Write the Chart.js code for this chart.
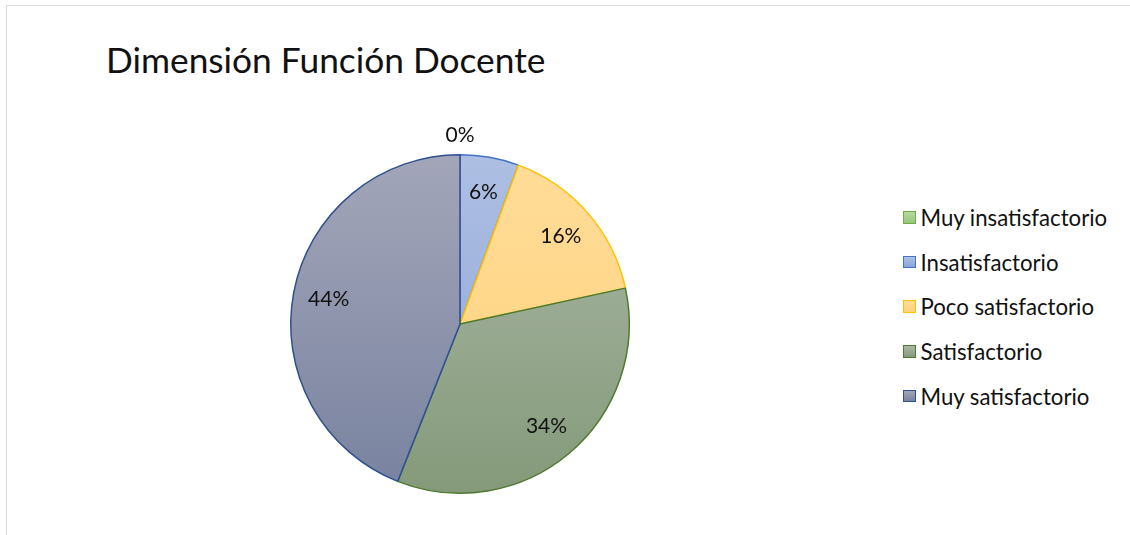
<!DOCTYPE html>
<html>
<head>
<meta charset="utf-8">
<script src="https://cdn.jsdelivr.net/npm/chart.js@4"></script>
<style>
  body { margin: 0; background: #fff; }
  #wrap { position: relative; width: 1130px; height: 535px; overflow: hidden; }
  #frame { position: absolute; left: 6px; top: 5px; width: 1130px; height: 540px;
           border: 1px solid #d9d9d9; box-sizing: border-box; }
  #title { position: absolute; left: 106px; top: 38px; font-family: Lato, sans-serif;
           font-size: 35.3px; color: #111; white-space: nowrap; }
  #legend { position: absolute; left: 903px; top: 204px; font-family: Lato, sans-serif;
            font-size: 22.2px; color: #111; }
  #legend div { height: 44.7px; display: flex; align-items: flex-start; white-space: nowrap; }
  #legend span.box { display: inline-block; width: 10.5px; height: 10.5px; border: 1.5px solid;
                     margin: 7px 5px 0 0; }
  #chart-canvas { position: absolute; left: 0; top: 0; }
</style>
</head>
<body>
<div id="wrap">
  <div id="frame"></div>
  <div id="title">Dimensión Función Docente</div>
  <div id="legend"></div>
  <canvas id="chart-canvas" width="920" height="535"></canvas>
</div>
<script>
const labels = [
    'Muy insatisfactorio',
    'Insatisfactorio',
    'Poco satisfactorio',
    'Satisfactorio',
    'Muy satisfactorio',
];
const counts = [0, 7, 20, 43, 55];

// fill gradient stops (top, bottom) and outline per slice
const topColors = ['#b5d9a0', '#aebfe3', '#ffdc98', '#abb8a6', '#a3a6b9'];
const bottomColors = ['#98c47c', '#8aa3d6', '#ffd27a', '#849a7a', '#78829f'];
const borderColors = ['#70ad47', '#4472c4', '#ffc000', '#4e7a2f', '#2f4f8f'];

const total = counts.reduce((a, b) => a + b, 0);

// legend built from the same arrays
const legendEl = document.getElementById('legend');
labels.forEach((lab, i) => {
    const row = document.createElement('div');
    const box = document.createElement('span');
    box.className = 'box';
    box.style.borderColor = borderColors[i];
    box.style.background = 'linear-gradient(' + topColors[i] + ',' + bottomColors[i] + ')';
    row.appendChild(box);
    row.appendChild(document.createTextNode(lab));
    legendEl.appendChild(row);
});

function sliceFill(ctx) {
    const chart = ctx.chart;
    const area = chart.chartArea;
    if (!area) return topColors[ctx.dataIndex];
    const g = chart.ctx.createLinearGradient(0, area.top, 0, area.bottom);
    g.addColorStop(0, topColors[ctx.dataIndex]);
    g.addColorStop(1, bottomColors[ctx.dataIndex]);
    return g;
}

// percent labels, Excel style: inside at ~0.8 R, zero slice outside on top
const pctLabels = {
    id: 'pctLabels',
    afterDatasetsDraw(chart) {
        const c = chart.ctx;
        const meta = chart.getDatasetMeta(0);
        c.save();
        c.font = '21px Lato, sans-serif';
        c.fillStyle = '#111';
        c.textAlign = 'center';
        c.textBaseline = 'middle';
        meta.data.forEach((arc, i) => {
            const v = counts[i];
            const txt = Math.round(v / total * 100) + '%';
            const p = arc.getProps(['x', 'y', 'startAngle', 'endAngle', 'outerRadius'], true);
            const mid = (p.startAngle + p.endAngle) / 2;
            const r = v === 0 ? p.outerRadius + 20 : p.outerRadius * 0.79;
            c.fillText(txt, p.x + Math.cos(mid) * r, p.y + Math.sin(mid) * r);
        });
        c.restore();
    }
};

const config = {
    type: 'pie',
    data: {
        labels: labels,
        datasets: [{
            data: counts,
            backgroundColor: sliceFill,
            borderColor: borderColors,
            borderWidth: 1.5,
        }]
    },
    options: {
        responsive: false,
        animation: false,
        layout: { padding: { top: 154, bottom: 41, left: 0, right: 0 } },
        plugins: {
            legend: { display: false },
            tooltip: { enabled: false },
        }
    },
    plugins: [pctLabels]
};

let myChart = new Chart(document.getElementById('chart-canvas'), config);
</script>
</body>
</html>
